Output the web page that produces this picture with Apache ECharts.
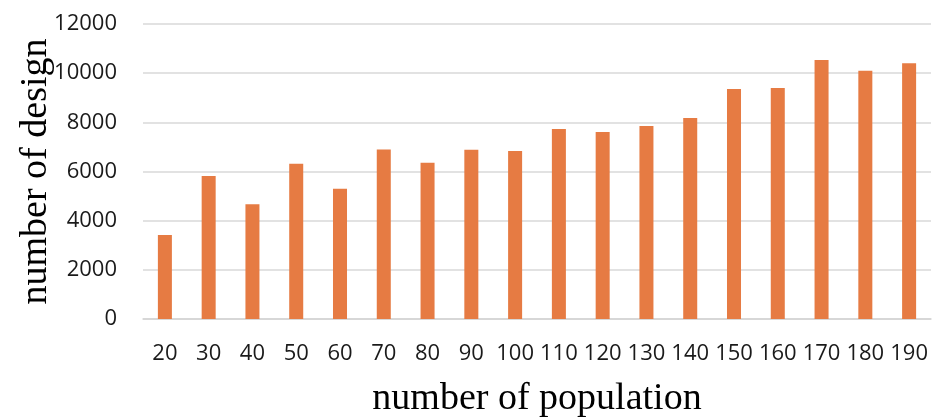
<!DOCTYPE html>
<html>
<head>
<meta charset="utf-8">
<script src="https://cdn.jsdelivr.net/npm/echarts@6/dist/echarts.min.js"></script>
<style>
  html, body { margin: 0; padding: 0; background: #fff; }
  #chart { width: 933px; height: 419px; }
</style>
</head>
<body>
<div id="chart"></div>
<script>
// Population sizes on the x axis
const populations = ['20', '30', '40', '50', '60', '70', '80', '90', '100', '110',
  '120', '130', '140', '150', '160', '170', '180', '190'];
// Number of designs found for each population size
const designCounts = [3420, 5820, 4670, 6320, 5300, 6900, 6360, 6880, 6830, 7730,
  7610, 7850, 8180, 9360, 9400, 10540, 10100, 10400];
// Value axis ticks
const yMin = 0;
const yMax = 12000;
const yStep = 2000;

const chart = echarts.init(document.getElementById('chart'), null, { renderer: 'canvas' });

chart.setOption({
  animation: false,
  grid: { left: 143, right: 2, top: 24, bottom: 100, outerBoundsMode: 'none' },
  xAxis: {
    type: 'category',
    data: populations,
    name: 'number of population',
    nameLocation: 'middle',
    nameGap: 61,
    nameMoveOverlap: false,
    nameTextStyle: { fontFamily: 'Liberation Serif', fontSize: 38, color: '#000' },
    axisLine: { show: true, lineStyle: { color: '#d4d4d4', width: 1.5 } },
    axisTick: { show: false },
    axisLabel: {
      interval: 0,
      margin: 24,
      fontFamily: 'Open Sans',
      fontSize: 22,
      color: '#1a1a1a'
    }
  },
  yAxis: {
    type: 'value',
    min: yMin,
    max: yMax,
    interval: yStep,
    name: 'number of design',
    nameLocation: 'middle',
    nameGap: 88,
    nameRotate: 90,
    nameMoveOverlap: false,
    nameTextStyle: { fontFamily: 'Liberation Serif', fontSize: 38, color: '#000' },
    axisLine: { show: false },
    axisTick: { show: false },
    axisLabel: {
      margin: 26,
      fontFamily: 'Open Sans',
      fontSize: 22,
      color: '#1a1a1a',
      formatter: (v) => String(v)
    },
    splitLine: { show: true, lineStyle: { color: '#d9d9d9', width: 1.5 } }
  },
  series: [{
    type: 'bar',
    data: designCounts,
    barWidth: '32%',
    itemStyle: { color: '#E67B43' }
  }]
});
</script>
</body>
</html>
